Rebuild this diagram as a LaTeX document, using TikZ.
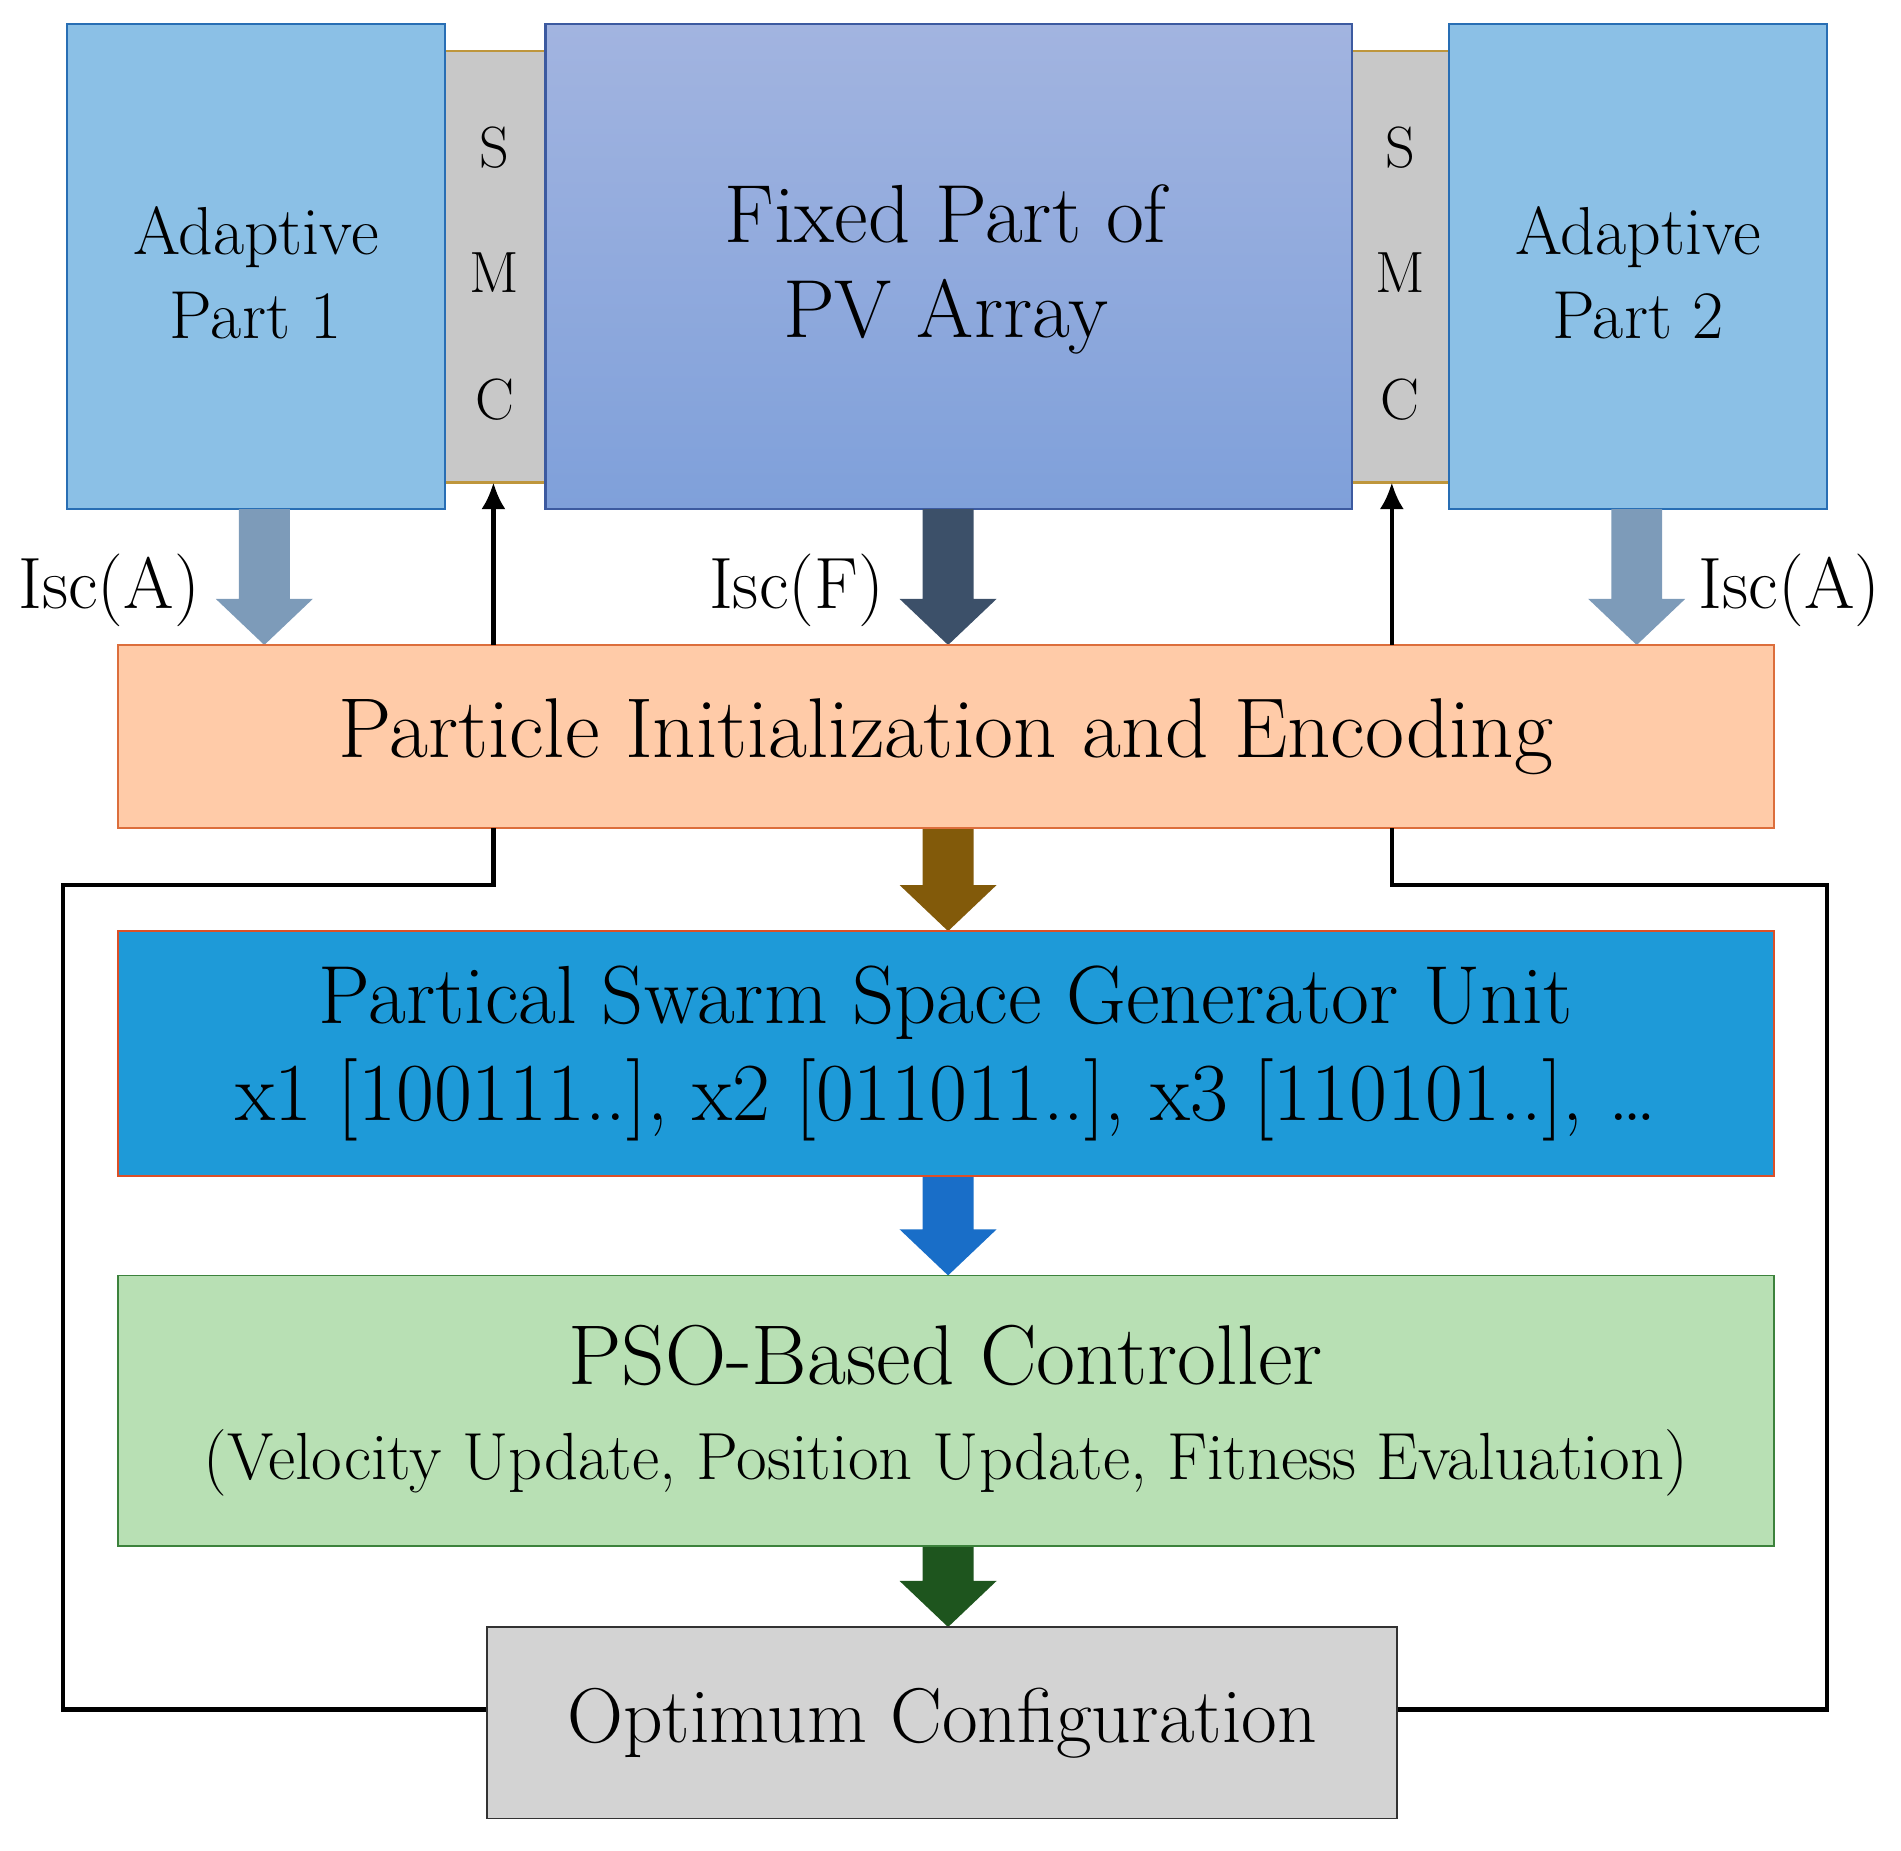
\documentclass[tikz,border=0pt]{standalone}
\usepackage{fontspec}
\usetikzlibrary{arrows.meta}
\definecolor{adap}{HTML}{8BC0E6}
\definecolor{adapd}{HTML}{286EB4}
\definecolor{smc}{HTML}{C8C8C8}
\definecolor{tan}{HTML}{BE963C}
\definecolor{fixt}{HTML}{A2B4E0}
\definecolor{fixb}{HTML}{7FA0DA}
\definecolor{fixd}{HTML}{3C5AA0}
\definecolor{pie}{HTML}{FFCBA8}
\definecolor{pied}{HTML}{DC6E3C}
\definecolor{swarm}{HTML}{1E9AD8}
\definecolor{swarmd}{HTML}{DC5028}
\definecolor{pso}{HTML}{B8E0B4}
\definecolor{psod}{HTML}{3C823C}
\definecolor{opt}{HTML}{D3D3D3}
\definecolor{optd}{HTML}{323232}
\definecolor{ar1}{HTML}{7D9BB9}
\definecolor{ar2}{HTML}{3C5069}
\definecolor{ar3}{HTML}{825A0A}
\definecolor{ar4}{HTML}{196EC8}
\definecolor{ar5}{HTML}{1E551E}
\newcommand{\barrow}[4]{\fill[#4] (#1-21,#2) -- (#1+21,#2) -- (#1+21,#3-38) -- (#1+40,#3-38) -- (#1,#3) -- (#1-40,#3-38) -- (#1-21,#3-38) -- cycle;}
\begin{document}
\begin{tikzpicture}[x=1pt,y=-1pt,
  box/.style={draw,line width=1.5pt,inner sep=0pt},
  txt/.style={font=\fontsize{56}{64}\selectfont,align=center},
  smct/.style={font=\fontsize{48}{56}\selectfont},
  fb/.style={line width=3.5pt,line join=miter},
  thin/.style={line width=3.5pt,-{Latex[length=22pt,width=20pt]}}]
\useasboundingbox (0,0) rectangle (1568,1526);
% SMC strips
\fill[smc] (367,42) rectangle (450,398);
\fill[smc] (1115,42) rectangle (1195,398);
\draw[line width=2pt,tan] (367,42)--(450,42) (367,398)--(450,398) (1115,42)--(1195,42) (1115,398)--(1195,398);
\node[smct] (s1) at (408,122) {S};
\node[smct] (m1) at (408,225) {M};
\node[smct] (c1) at (408,330) {C};
\node[smct] (s2) at (1155,122) {S};
\node[smct] (m2) at (1155,225) {M};
\node[smct] (c2) at (1155,330) {C};
% top boxes
\draw[box,fill=adap,draw=adapd] (55,20) rectangle (367,420);
\node[txt] (a1) at (211,225) {Adaptive\\[6pt]Part 1};
\draw[box,fill=adap,draw=adapd] (1195,20) rectangle (1507,420);
\node[txt] (a2) at (1351,225) {Adaptive\\[6pt]Part 2};
\shade[top color=fixt,bottom color=fixb] (450,20) rectangle (1115,420);
\draw[line width=2pt,draw=fixd] (450,20) rectangle (1115,420);
\node[txt,font=\fontsize{68}{78}\selectfont] (fx) at (780,222) {Fixed Part of\\PV Array};
% block arrows
\barrow{218}{420}{532}{ar1}
\barrow{782}{420}{532}{ar2}
\barrow{1350}{420}{532}{ar1}
\barrow{782}{683}{768}{ar3}
\barrow{782}{970}{1052}{ar4}
\barrow{782}{1275}{1342}{ar5}
\node[txt,font=\fontsize{60}{68}\selectfont] (l1) at (90,487) {Isc(A)};
\node[txt,font=\fontsize{60}{68}\selectfont] (l2) at (657,487) {Isc(F)};
\node[txt,font=\fontsize{60}{68}\selectfont] (l3) at (1476,487) {Isc(A)};
% middle boxes
\node[box,fill=pie,draw=pied,minimum width=1366pt,minimum height=151pt,txt,font=\fontsize{70}{78}\selectfont] (pie) at (780,607.5) {Particle Initialization and Encoding};
\node[box,fill=swarm,draw=swarmd,minimum width=1366pt,minimum height=202pt,txt,font=\fontsize{68}{80}\selectfont] (sw) at (780,869) {Partical Swarm Space Generator Unit\\x1 [100111..], x2 [011011..], x3 [110101..], \dots};
\node[box,fill=pso,draw=psod,minimum width=1366pt,minimum height=223pt,txt] (pso) at (780,1163.5) {{\fontsize{70}{76}\selectfont PSO-Based Controller}\\[14pt]{\fontsize{55}{60}\selectfont (Velocity Update, Position Update, Fitness Evaluation)}};
\node[box,fill=opt,draw=optd,minimum width=750pt,minimum height=158pt,txt,font=\fontsize{64}{72}\selectfont] (opt) at (777,1421) {Optimum Configuration};
% thin arrows up
\draw[thin] (407,532) -- (407,398);
\draw[thin] (1148,532) -- (1148,398);
% feedback lines
\draw[fb] (407,683) -- (407,730) -- (52,730) -- (52,1410) -- (opt.west |- 0,1410);
\draw[fb] (1148,683) -- (1148,730) -- (1507,730) -- (1507,1410) -- (opt.east |- 0,1410);
\end{tikzpicture}
\end{document}
